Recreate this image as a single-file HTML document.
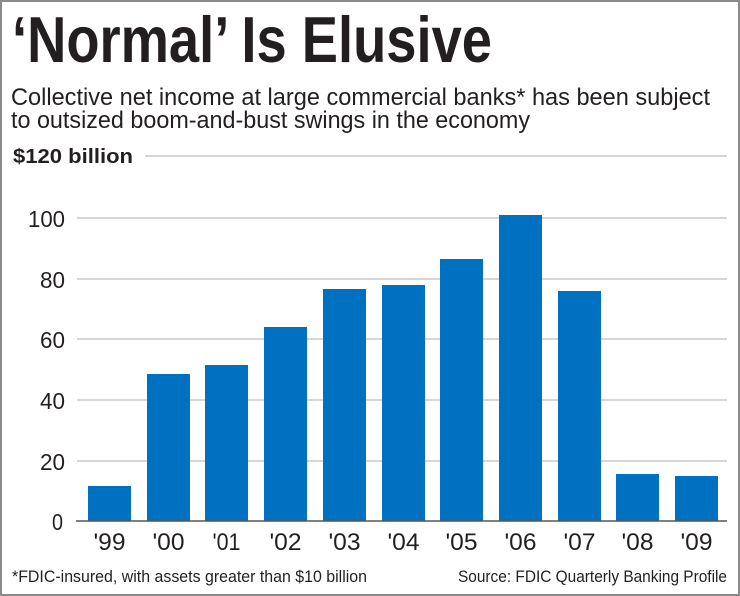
<!DOCTYPE html>
<html><head><meta charset="utf-8"><style>
html,body{margin:0;padding:0;background:#fff}
svg{display:block}
text{font-family:"Liberation Sans",sans-serif;fill:#231f20}
</style></head><body>
<svg width="740" height="596" viewBox="0 0 740 596" xmlns="http://www.w3.org/2000/svg">
<rect x="1" y="1" width="738" height="594" fill="#fff" stroke="#8a8a8a" stroke-width="2"/>
<text x="12" y="62" font-size="65" font-weight="bold" textLength="480" lengthAdjust="spacingAndGlyphs">‘Normal’ Is Elusive</text>
<text x="11" y="105" font-size="24" textLength="699" lengthAdjust="spacingAndGlyphs">Collective net income at large commercial banks* has been subject</text>
<text x="11" y="128" font-size="24" textLength="519" lengthAdjust="spacingAndGlyphs">to outsized boom-and-bust swings in the economy</text>
<text x="13" y="163" font-size="20" font-weight="bold" textLength="120" lengthAdjust="spacingAndGlyphs">$120 billion</text>
<g stroke="#bdbdbd" stroke-width="1.2">
<line x1="145" y1="156" x2="727" y2="156"/>
<line x1="77" y1="218" x2="727" y2="218"/>
<line x1="77" y1="279" x2="727" y2="279"/>
<line x1="77" y1="339" x2="727" y2="339"/>
<line x1="77" y1="400" x2="727" y2="400"/>
<line x1="77" y1="461" x2="727" y2="461"/>
</g>
<g font-size="23" text-anchor="end">
<text x="65" y="227" textLength="37" lengthAdjust="spacingAndGlyphs">100</text>
<text x="65" y="288" textLength="25" lengthAdjust="spacingAndGlyphs">80</text>
<text x="65" y="348" textLength="25" lengthAdjust="spacingAndGlyphs">60</text>
<text x="65" y="409" textLength="25" lengthAdjust="spacingAndGlyphs">40</text>
<text x="65" y="470" textLength="25" lengthAdjust="spacingAndGlyphs">20</text>
<text x="63" y="530" textLength="11" lengthAdjust="spacingAndGlyphs">0</text>
</g>
<g fill="#0070c0">
<rect x="88" y="486" width="43" height="35"/>
<rect x="147" y="374" width="43" height="147"/>
<rect x="205" y="365" width="43" height="156"/>
<rect x="264" y="327" width="43" height="194"/>
<rect x="323" y="289" width="43" height="232"/>
<rect x="382" y="285" width="43" height="236"/>
<rect x="440" y="259" width="43" height="262"/>
<rect x="499" y="215" width="43" height="306"/>
<rect x="558" y="291" width="43" height="230"/>
<rect x="616" y="474" width="43" height="47"/>
<rect x="675" y="476" width="43" height="45"/>
</g>
<line x1="76" y1="521" x2="727" y2="521" stroke="#555" stroke-width="1.5"/>
<g font-size="24" text-anchor="middle">
<text x="109.5" y="550" textLength="32" lengthAdjust="spacingAndGlyphs">'99</text>
<text x="168.5" y="550" textLength="32" lengthAdjust="spacingAndGlyphs">'00</text>
<text x="226.5" y="550" textLength="28" lengthAdjust="spacingAndGlyphs">'01</text>
<text x="285.5" y="550" textLength="32" lengthAdjust="spacingAndGlyphs">'02</text>
<text x="344.5" y="550" textLength="32" lengthAdjust="spacingAndGlyphs">'03</text>
<text x="403.5" y="550" textLength="32" lengthAdjust="spacingAndGlyphs">'04</text>
<text x="461.5" y="550" textLength="32" lengthAdjust="spacingAndGlyphs">'05</text>
<text x="520.5" y="550" textLength="32" lengthAdjust="spacingAndGlyphs">'06</text>
<text x="579.5" y="550" textLength="32" lengthAdjust="spacingAndGlyphs">'07</text>
<text x="637.5" y="550" textLength="32" lengthAdjust="spacingAndGlyphs">'08</text>
<text x="696.5" y="550" textLength="32" lengthAdjust="spacingAndGlyphs">'09</text>
</g>
<text x="12" y="582" font-size="17" fill="#333" textLength="355" lengthAdjust="spacingAndGlyphs">*FDIC-insured, with assets greater than $10 billion</text>
<text x="727" y="582" font-size="17" fill="#333" text-anchor="end" textLength="269" lengthAdjust="spacingAndGlyphs">Source: FDIC Quarterly Banking Profile</text>
</svg>
</body></html>
